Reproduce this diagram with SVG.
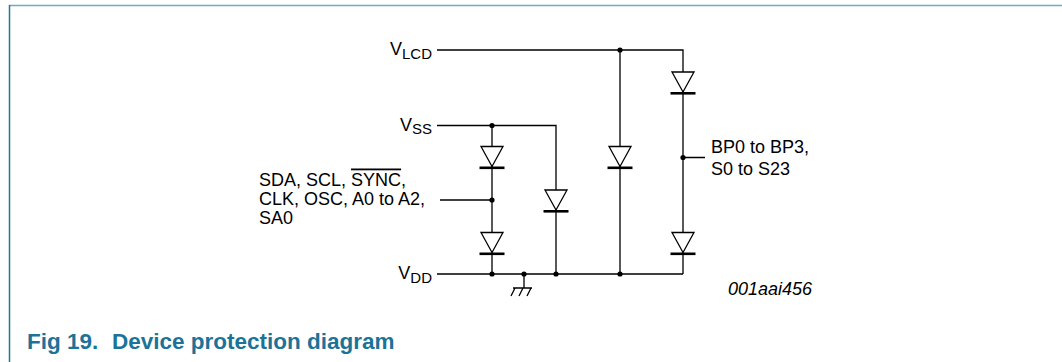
<svg xmlns="http://www.w3.org/2000/svg" width="1062" height="362" viewBox="0 0 1062 362">
<defs>
<style>
.w{fill:none;stroke:#000;stroke-width:1.3}
.d{fill:#fff;stroke:#000;stroke-width:1.3}
.bar{stroke:#000;stroke-width:2.6}
.dot{fill:#000}
.t{font-family:"Liberation Sans",Arial,sans-serif;font-size:18px;fill:#000}
.s{font-size:15px}
.title{font-family:"Liberation Sans",Arial,sans-serif;font-size:22.5px;font-weight:bold;fill:#1b7398}
</style>
<g id="diode">
<polygon points="-11,0 11,0 0,20" class="d"/>
<line x1="-12.5" y1="21.3" x2="12.5" y2="21.3" class="bar"/>
</g>
</defs>
<rect width="1062" height="362" fill="#fff"/>
<line x1="9" y1="5.5" x2="1062" y2="5.5" stroke="#6eaac6" stroke-width="1.5"/>
<line x1="9.5" y1="5" x2="9.5" y2="362" stroke="#1f7898" stroke-width="1.5"/>

<g id="connectors">
<path class="w" d="M437 50 H683 V274 M620 50 V274 M437 125.5 H556 V274 M492 125.5 V274 M437 274 H683 M440 200 H492 M683 157.5 H705 M524 274 V288 M513 288 H532 M515 288 L511 296 M523 288 L519 296 M531 288 L527 296"/>
</g>

<g id="dots">
<circle class="dot" cx="620" cy="50" r="2.6"/>
<circle class="dot" cx="492" cy="125.5" r="2.6"/>
<circle class="dot" cx="492" cy="200" r="2.6"/>
<circle class="dot" cx="683" cy="157.5" r="2.6"/>
<circle class="dot" cx="492" cy="274" r="2.6"/>
<circle class="dot" cx="524" cy="274" r="2.6"/>
<circle class="dot" cx="556" cy="274" r="2.6"/>
<circle class="dot" cx="620" cy="274" r="2.6"/>
</g>

<g id="D1"><use href="#diode" x="492" y="146.5"/></g>
<g id="D2"><use href="#diode" x="492" y="232.5"/></g>
<g id="D3"><use href="#diode" x="556" y="190"/></g>
<g id="D4"><use href="#diode" x="620" y="146.5"/></g>
<g id="D5"><use href="#diode" x="683" y="72"/></g>
<g id="D6"><use href="#diode" x="683" y="232.5"/></g>

<g id="VLCD"><text class="t" x="432" y="55" text-anchor="end">V<tspan class="s" dy="3.5">LCD</tspan></text></g>
<g id="VSS"><text class="t" x="432" y="130.5" text-anchor="end">V<tspan class="s" dy="3.5">SS</tspan></text></g>
<g id="VDD"><text class="t" x="432" y="279" text-anchor="end">V<tspan class="s" dy="3.5">DD</tspan></text></g>
<g id="inputs"><text class="t" x="259" y="185.5">SDA, SCL, <tspan text-decoration="overline">SYNC</tspan>,<tspan x="259" y="204.5">CLK, OSC, A0 to A2,</tspan><tspan x="259" y="223.5">SA0</tspan></text></g>
<g id="outputs"><text class="t" x="711" y="152.7">BP0 to BP3,<tspan x="711" y="175">S0 to S23</tspan></text></g>
<text class="t" x="812" y="295" text-anchor="end" font-style="italic" font-size="15.5px">001aai456</text>
<text class="title" x="27" y="349">Fig 19.<tspan x="112">Device protection diagram</tspan></text>
</svg>
